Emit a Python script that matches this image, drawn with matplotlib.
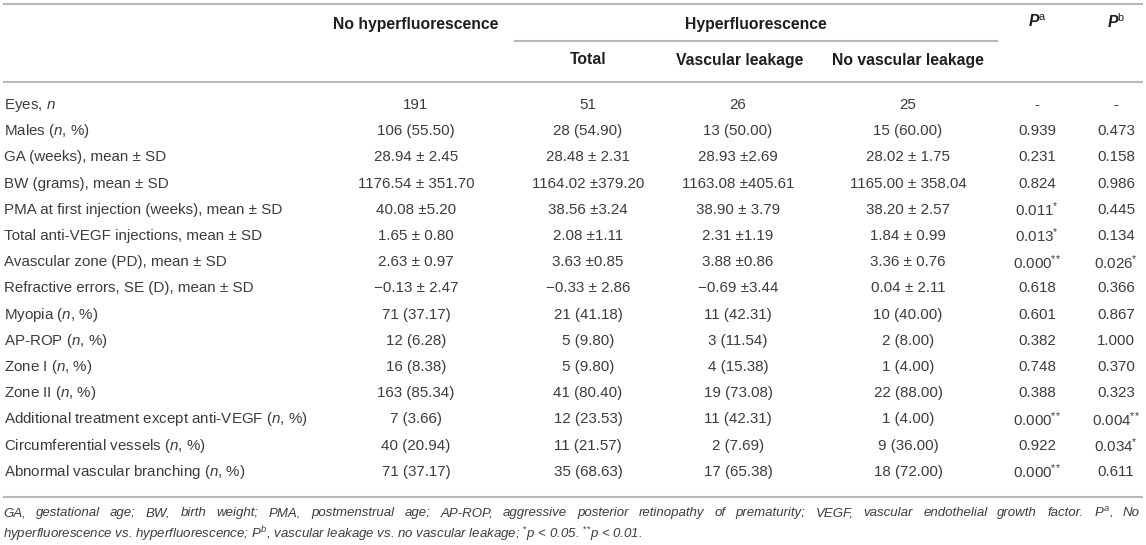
import matplotlib
matplotlib.use("Agg")
import matplotlib.pyplot as plt

plt.rcParams["font.family"] = ["Liberation Sans", "DejaVu Sans"]
plt.rcParams["mathtext.fontset"] = "custom"
plt.rcParams["mathtext.rm"] = "Liberation Sans"
plt.rcParams["mathtext.it"] = "Liberation Sans:italic"
plt.rcParams["mathtext.bf"] = "Liberation Sans:bold"
plt.rcParams["mathtext.bfit"] = "Liberation Sans:italic:bold"

# table content
row_labels = [
    "Eyes, $n$",
    "Males ($n$, %)",
    "GA (weeks), mean ± SD",
    "BW (grams), mean ± SD",
    "PMA at first injection (weeks), mean ± SD",
    "Total anti-VEGF injections, mean ± SD",
    "Avascular zone (PD), mean ± SD",
    "Refractive errors, SE (D), mean ± SD",
    "Myopia ($n$, %)",
    "AP-ROP ($n$, %)",
    "Zone I ($n$, %)",
    "Zone II ($n$, %)",
    "Additional treatment except anti-VEGF ($n$, %)",
    "Circumferential vessels ($n$, %)",
    "Abnormal vascular branching ($n$, %)",
]
no_hyper = ["191", "106 (55.50)", "28.94 ± 2.45", "1176.54 ± 351.70", "40.08 ±5.20",
            "1.65 ± 0.80", "2.63 ± 0.97", "\u22120.13 ± 2.47", "71 (37.17)", "12 (6.28)",
            "16 (8.38)", "163 (85.34)", "7 (3.66)", "40 (20.94)", "71 (37.17)"]
hyper_total = ["51", "28 (54.90)", "28.48 ± 2.31", "1164.02 ±379.20", "38.56 ±3.24",
               "2.08 ±1.11", "3.63 ±0.85", "\u22120.33 ± 2.86", "21 (41.18)", "5 (9.80)",
               "5 (9.80)", "41 (80.40)", "12 (23.53)", "11 (21.57)", "35 (68.63)"]
vasc_leak = ["26", "13 (50.00)", "28.93 ±2.69", "1163.08 ±405.61", "38.90 ± 3.79",
             "2.31 ±1.19", "3.88 ±0.86", "\u22120.69 ±3.44", "11 (42.31)", "3 (11.54)",
             "4 (15.38)", "19 (73.08)", "11 (42.31)", "2 (7.69)", "17 (65.38)"]
no_vasc_leak = ["25", "15 (60.00)", "28.02 ± 1.75", "1165.00 ± 358.04", "38.20 ± 2.57",
                "1.84 ± 0.99", "3.36 ± 0.76", "0.04 ± 2.11", "10 (40.00)", "2 (8.00)",
                "1 (4.00)", "22 (88.00)", "1 (4.00)", "9 (36.00)", "18 (72.00)"]
p_a = ["-", "0.939", "0.231", "0.824", "0.011*", "0.013*", "0.000**", "0.618", "0.601",
       "0.382", "0.748", "0.388", "0.000**", "0.922", "0.000**"]
p_b = ["-", "0.473", "0.158", "0.986", "0.445", "0.134", "0.026*", "0.366", "0.867",
       "1.000", "0.370", "0.323", "0.004**", "0.034*", "0.611"]

footnote_1 = ("GA, gestational age; BW, birth weight; PMA, postmenstrual age; AP-ROP, "
              "aggressive posterior retinopathy of prematurity; VEGF, vascular endothelial "
              "growth factor. $P^{a}$, No")
footnote_2 = ("hyperfluorescence vs. hyperfluorescence; $P^{b}$, vascular leakage vs. no "
              "vascular leakage; $^{*}$p < 0.05. $^{{*}{*}}$p < 0.01.")

W, H = 1146, 545
fig = plt.figure(figsize=(W / 100, H / 100), dpi=100)
ax = fig.add_axes([0, 0, 1, 1])
ax.set_xlim(0, W)
ax.set_ylim(H, 0)
ax.axis("off")

body = "#3c3c3c"
head = "#1e1e1e"
rule = "#b8b8b8"
fs = 10.9

# rules
for y, x0, x1 in [(4, 3, 1143), (41, 514, 998), (82, 3, 1143), (497, 3, 1143)]:
    ax.plot([x0, x1], [y, y], color=rule, lw=1.5, solid_capstyle="butt")

# headers
hk = dict(ha="center", va="center", fontsize=11.3, fontweight="bold", color=head)
ax.text(416, 24, "No hyperfluorescence", **hk)
ax.text(756, 24, "Hyperfluorescence", **hk)
ax.text(588, 60, "Total", **hk)
ax.text(740, 60, "Vascular leakage", **hk)
ax.text(908, 60, "No vascular leakage", **hk)
ax.text(1037, 22, r"$\mathbfit{P}^{\mathrm{a}}$", **hk)
ax.text(1116, 22, r"$\mathbfit{P}^{\mathrm{b}}$", **hk)


def star(s):
    n = len(s) - len(s.rstrip("*"))
    if n:
        return s[:-n] + "$^{" + "{*}" * n + "}$"
    return s


col_x = [416, 588, 738, 908, 1037, 1116]
cols = [no_hyper, hyper_total, vasc_leak, no_vasc_leak, p_a, p_b]
for i, lab in enumerate(row_labels):
    y = 105 + i * 26.2
    ax.text(4, y, lab, ha="left", va="center", fontsize=fs, color=body)
    for x, col in zip(col_x, cols):
        ax.text(x, y, star(col[i]), ha="center", va="center", fontsize=fs, color=body)

# footnote, first line justified
fk = dict(ha="left", va="center", fontsize=9.5, color=body, style="italic")
words = footnote_1.split(" ")
texts = [ax.text(0, 513, w, **fk) for w in words]
fig.canvas.draw()
r = fig.canvas.get_renderer()
widths = [t.get_window_extent(r).width for t in texts]
gap = (1140 - 3 - sum(widths)) / (len(words) - 1)
x = 3
for t, w in zip(texts, widths):
    t.set_x(x)
    x += w + gap
ax.text(3, 534, footnote_2, **fk)

fig.savefig("out.png", dpi=100)
